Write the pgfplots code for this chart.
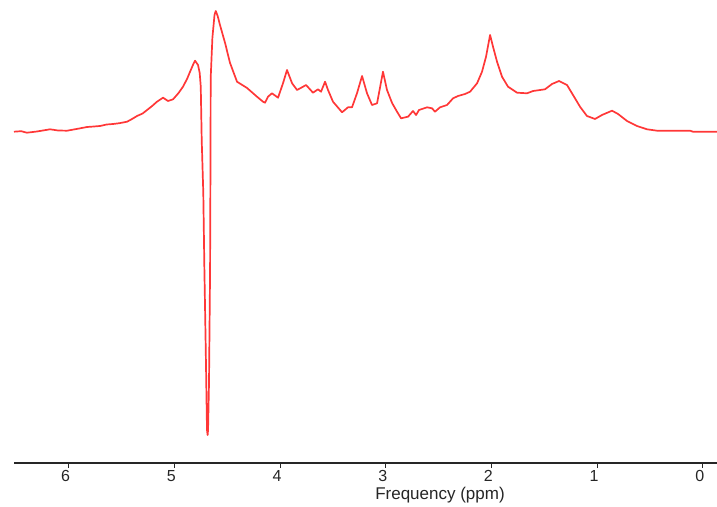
\documentclass[border=0pt]{standalone}
\usepackage{pgfplots}
\pgfplotsset{compat=1.18}
\usepackage{fontspec}
\setmainfont{Liberation Sans}
\definecolor{specred}{RGB}{255,55,55}
\begin{document}
\begin{tikzpicture}
\path[use as bounding box] (-14pt,-43pt) rectangle (703pt,463pt);
\begin{axis}[
  at={(0,0)}, anchor=south west,
  scale only axis, width=703pt, height=463pt,
  xmin=-0.134, xmax=6.517, ymin=0, ymax=463,
  x dir=reverse,
  axis x line=bottom, axis y line=none,
  x axis line style={-, line width=1.2pt, color=black!85},
  xtick={0,1,2,3,4,5,6},
  tick align=outside, major tick length=5pt,
  every tick/.style={black!85, line width=1pt},
  /pgf/number format/assume math mode=true,
  tick label style={font=\fontsize{16}{16}\selectfont, color=black!85, xshift=-3pt, yshift=1pt},
  xlabel={Frequency (ppm)},
  xlabel style={font=\fontsize{17}{17}\selectfont, color=black!85, at={(axis description cs:0.606,0)}, anchor=center, yshift=-32pt},
  clip=false,
]
\addplot[specred, line width=1.7pt, line join=round] coordinates {
(6.517,331.3) (6.45,331.8) (6.394,330.3) (6.30,331.5) (6.176,333.7) (6.10,332.5) (6.015,332.3)
(5.90,334.5) (5.826,336) (5.76,336.5) (5.703,337) (5.64,338.5) (5.580,339) (5.52,339.8) (5.447,341.3)
(5.40,344) (5.353,347) (5.30,349.5) (5.258,353) (5.21,357) (5.164,361.3) (5.107,365.3) (5.060,362)
(5.012,363.7) (4.96,370) (4.918,376.3) (4.88,384) (4.851,391.3) (4.82,399) (4.804,402.3) (4.776,398)
(4.760,390) (4.750,376.3) (4.741,323) (4.726,270) (4.716,196) (4.703,115) (4.691,33) (4.685,28)
(4.681,33) (4.672,80) (4.662,191) (4.658,300) (4.656,385) (4.640,425) (4.620,448) (4.608,452)
(4.590,447) (4.568,438) (4.520,420) (4.473,400) (4.407,381.3) (4.312,375) (4.218,366.3)
(4.161,361.3) (4.142,360.3) (4.114,366.3) (4.076,369.7) (4.019,365.3) (3.972,379.7) (3.934,393)
(3.886,379.7) (3.839,373) (3.782,376.3) (3.754,378) (3.688,370.3) (3.641,373.7) (3.612,371.3)
(3.574,381.3) (3.546,373) (3.499,361.3) (3.413,350.7) (3.357,355.7) (3.319,355.7) (3.272,369.7)
(3.224,387) (3.177,369.7) (3.130,358) (3.082,359.7) (3.026,391.3) (2.988,373) (2.940,360)
(2.893,351.3) (2.855,344.7) (2.789,346.3) (2.742,352) (2.713,348) (2.685,353) (2.609,355.7)
(2.562,354.7) (2.534,351.3) (2.486,355.7) (2.420,358) (2.363,364.7) (2.316,367) (2.250,369)
(2.202,371.3) (2.136,379.7) (2.089,391.3) (2.051,406.3) (2.013,428) (1.985,416.3) (1.947,401.3)
(1.900,386.3) (1.843,376.3) (1.758,370.3) (1.663,369.7) (1.606,372) (1.493,373.7) (1.427,379)
(1.360,382) (1.285,378) (1.228,368) (1.162,356.3) (1.096,347) (1.020,344) (0.954,348)
(0.859,352.3) (0.802,349) (0.717,342) (0.623,337) (0.528,333.7) (0.433,332.3) (0.121,332.3)
(0.093,331.3) (-0.134,331.3)
};
\end{axis}
\end{tikzpicture}
\end{document}
